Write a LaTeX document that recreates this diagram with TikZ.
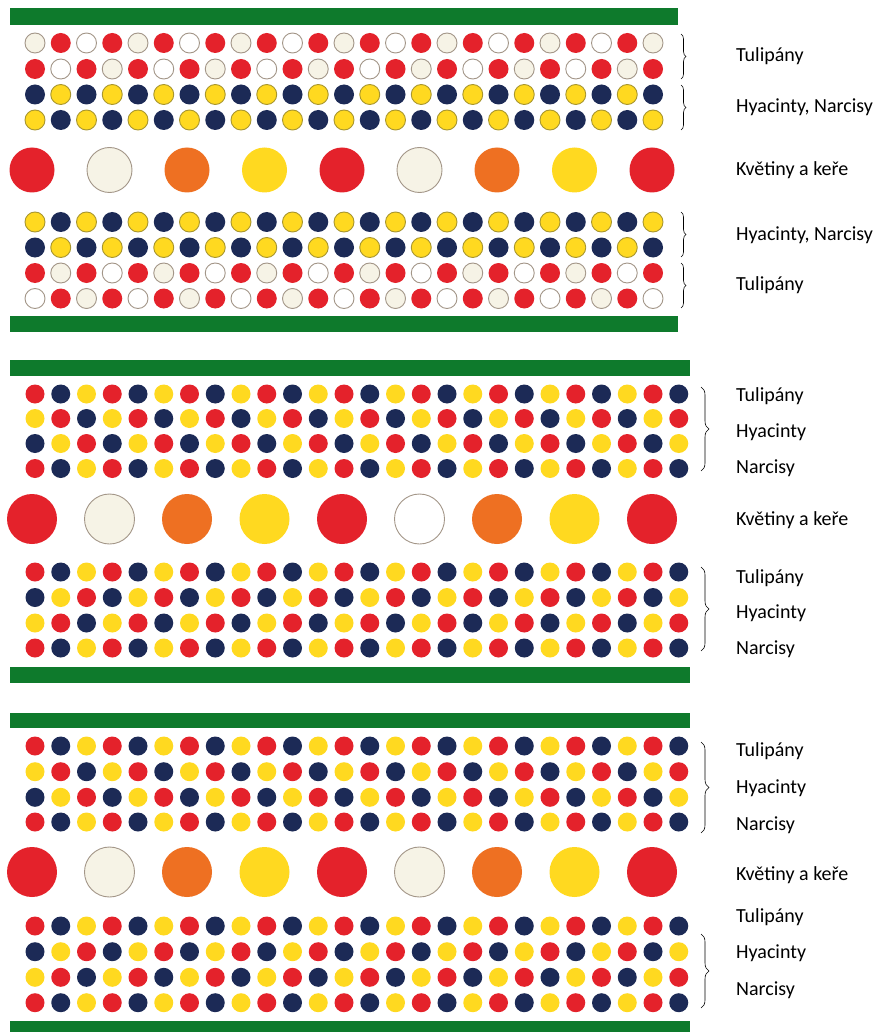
\documentclass[tikz,border=0pt]{standalone}
\usepackage{fontspec}
\setmainfont{Carlito}
\usepackage{tikz}
\usetikzlibrary{decorations.pathreplacing}
\usepackage{xcolor}
\definecolor{bedgreen}{HTML}{0E7A2C}
\definecolor{tulipred}{HTML}{E4222B}
\definecolor{hyanavy}{HTML}{1C2A56}
\definecolor{narcyellow}{HTML}{FFD920}
\definecolor{shruborange}{HTML}{EE7022}
\definecolor{creamfill}{HTML}{F6F3E6}
\definecolor{whiterim}{HTML}{A39688}
\definecolor{yellowrim}{HTML}{A8962E}

% one row of bulbs: y, last index, period, list of styles, radius
\newcommand{\bulbrow}[5]{%
  \foreach \i in {0,...,#2} {
    \pgfmathtruncatemacro{\k}{mod(\i,#3)}
    \pgfmathparse{{#4}[\k]}\let\bulbstyle\pgfmathresult
    \path[\bulbstyle] ({35+25.75*\i},#1) circle[radius=#5];
  }%
}

\begin{document}
\begin{tikzpicture}[x=1pt, y=-1pt,
    bedbar/.style={fill=bedgreen},
    reddot/.style={fill=tulipred},
    navydot/.style={fill=hyanavy},
    yellowdot/.style={fill=narcyellow},
    yellowring/.style={fill=narcyellow, draw=yellowrim, line width=0.9pt},
    creamring/.style={fill=creamfill, draw=whiterim, line width=0.9pt},
    whitering/.style={fill=white, draw=whiterim, line width=0.9pt},
    orangedot/.style={fill=shruborange},
    rowbrace/.style={decorate, decoration={brace, amplitude=#1}, line width=0.6pt},
    rowbrace/.default=5pt,
    bedlabel/.style={anchor=west, inner sep=0pt, font=\fontsize{20}{24}\selectfont},
]
\useasboundingbox[fill=white] (0,0) rectangle (880,1032);

% Bed 1: tulips outside, hyacinths and narcissi inside
\fill[bedbar] (10,8) rectangle (678,25);
\bulbrow{43}{24}{4}{"creamring","reddot","whitering","reddot"}{10}
\bulbrow{69}{24}{4}{"reddot","whitering","reddot","creamring"}{10}
\bulbrow{94.5}{24}{2}{"navydot","yellowring"}{10}
\bulbrow{120}{24}{2}{"yellowring","navydot"}{10}
\foreach \s [count=\j from 0] in {reddot,creamring,orangedot,yellowdot,reddot,creamring,orangedot,yellowdot,reddot}
    \path[\s] ({32+77.5*\j},170) circle[radius=22.5];
\bulbrow{222}{24}{2}{"yellowring","navydot"}{10}
\bulbrow{247.5}{24}{2}{"navydot","yellowring"}{10}
\bulbrow{273}{24}{4}{"reddot","creamring","reddot","whitering"}{10}
\bulbrow{298.5}{24}{4}{"whitering","reddot","creamring","reddot"}{10}
\fill[bedbar] (10,316) rectangle (678,332);

\draw[rowbrace] (681,34) -- (681,79);
\draw[rowbrace] (681,85) -- (681,130);
\draw[rowbrace] (681,212) -- (681,257);
\draw[rowbrace] (681,263) -- (681,308);
\node[bedlabel] (tul1a) at (736,56) {Tulipány};
\node[bedlabel] (hyn1a) at (736,107) {Hyacinty, Narcisy};
\node[bedlabel] (kve1) at (736,170) {Květiny a keře};
\node[bedlabel] (hyn1b) at (736,235) {Hyacinty, Narcisy};
\node[bedlabel] (tul1b) at (736,285) {Tulipány};

% Bed 2: mixed rows
\fill[bedbar] (10,360) rectangle (690,376);
\bulbrow{394}{25}{3}{"reddot","navydot","yellowdot"}{9.5}
\bulbrow{418.5}{25}{3}{"yellowdot","reddot","navydot"}{9.5}
\bulbrow{443.5}{25}{3}{"navydot","yellowdot","reddot"}{9.5}
\bulbrow{468.5}{25}{3}{"reddot","navydot","yellowdot"}{9.5}
\foreach \s [count=\j from 0] in {reddot,creamring,orangedot,yellowdot,reddot,whitering,orangedot,yellowdot,reddot}
    \path[\s] ({32+77.5*\j},519) circle[radius=25];
\bulbrow{572}{25}{3}{"reddot","navydot","yellowdot"}{9.5}
\bulbrow{597.5}{25}{3}{"navydot","yellowdot","reddot"}{9.5}
\bulbrow{623}{25}{3}{"yellowdot","reddot","navydot"}{9.5}
\bulbrow{648}{25}{3}{"reddot","navydot","yellowdot"}{9.5}
\fill[bedbar] (10,667) rectangle (690,683);

\draw[rowbrace=8pt] (701,387) -- (701,471);
\draw[rowbrace=8pt] (701,567) -- (701,651);
\node[bedlabel] (tul2a) at (736,396) {Tulipány};
\node[bedlabel] (hya2a) at (736,432) {Hyacinty};
\node[bedlabel] (nar2a) at (736,468) {Narcisy};
\node[bedlabel] (kve2) at (736,520) {Květiny a keře};
\node[bedlabel] (tul2b) at (736,578) {Tulipány};
\node[bedlabel] (hya2b) at (736,613) {Hyacinty};
\node[bedlabel] (nar2b) at (736,649) {Narcisy};

% Bed 3: mixed rows
\fill[bedbar] (10,713) rectangle (690,728);
\bulbrow{746}{25}{3}{"reddot","navydot","yellowdot"}{9.5}
\bulbrow{771.7}{25}{3}{"yellowdot","reddot","navydot"}{9.5}
\bulbrow{797.3}{25}{3}{"navydot","yellowdot","reddot"}{9.5}
\bulbrow{822}{25}{3}{"reddot","navydot","yellowdot"}{9.5}
\foreach \s [count=\j from 0] in {reddot,creamring,orangedot,yellowdot,reddot,creamring,orangedot,yellowdot,reddot}
    \path[\s] ({32+77.5*\j},872) circle[radius=25];
\bulbrow{926}{25}{3}{"reddot","navydot","yellowdot"}{9.5}
\bulbrow{951.7}{25}{3}{"navydot","yellowdot","reddot"}{9.5}
\bulbrow{977.3}{25}{3}{"yellowdot","reddot","navydot"}{9.5}
\bulbrow{1002.7}{25}{3}{"reddot","navydot","yellowdot"}{9.5}
\fill[bedbar] (10,1021) rectangle (690,1032);

\draw[rowbrace=8pt] (701,742) -- (701,833);
\draw[rowbrace=8pt] (701,934) -- (701,1008);
\node[bedlabel] (tul3a) at (736,751) {Tulipány};
\node[bedlabel] (hya3a) at (736,788) {Hyacinty};
\node[bedlabel] (nar3a) at (736,825) {Narcisy};
\node[bedlabel] (kve3) at (736,875) {Květiny a keře};
\node[bedlabel] (tul3b) at (736,917) {Tulipány};
\node[bedlabel] (hya3b) at (736,953) {Hyacinty};
\node[bedlabel] (nar3b) at (736,990) {Narcisy};
\end{tikzpicture}
\end{document}
